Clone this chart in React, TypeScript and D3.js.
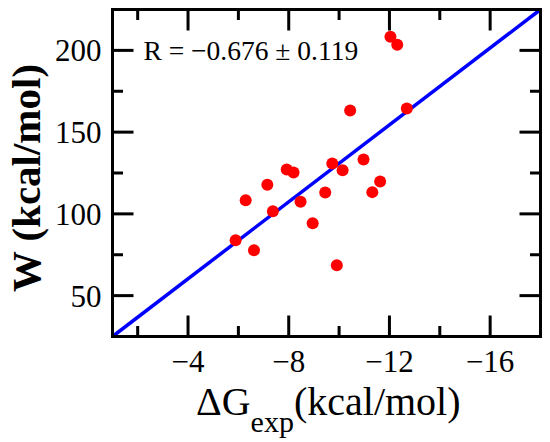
import * as d3 from "d3";

const WIDTH = 550;
const HEIGHT = 442;
const MARGIN = { top: 9.5, right: 9.5, bottom: 105.5, left: 112.5 };

// binding free energy (x) vs. W (y)
const dgExp = [
  -12.04, -12.31, -10.44, -12.69, -10.97, -9.73, -10.14, -7.92, -8.19, -7.15,
  -11.63, -11.32, -9.45, -6.29, -8.47, -7.37, -8.95, -5.89, -6.62, -9.91,
];
const wValues = [
  208.3, 203.4, 163.2, 164.4, 133.3, 130.8, 126.7, 127.1, 125.3, 117.8,
  119.8, 113.3, 113.1, 108.4, 107.4, 101.6, 94.3, 83.9, 77.8, 68.6,
];
const fitX = [-1, -18];
const fitY = [25, 225];

const xMajor = [-4, -8, -12, -16];
const xMinor = [-2, -6, -10, -14];
const yMajor = [50, 100, 150, 200];
const yMinor = [75, 125, 175];

const MAJOR = 21;
const MINOR = 10.5;
const SERIF = "Liberation Serif";

export default function App() {
  const boundsWidth = WIDTH - MARGIN.left - MARGIN.right;
  const boundsHeight = HEIGHT - MARGIN.top - MARGIN.bottom;

  const xScale = d3.scaleLinear().domain([-1, -18]).range([0, boundsWidth]);
  const yScale = d3.scaleLinear().domain([25, 225]).range([boundsHeight, 0]);
  const fmt = d3.format("d");

  const fitLine = d3
    .line<number>()
    .x((d) => xScale(d))
    .y((_, i) => yScale(fitY[i]))(fitX);

  const xTicks = [
    ...xMajor.map((v) => ({ v, len: MAJOR })),
    ...xMinor.map((v) => ({ v, len: MINOR })),
  ];
  const yTicks = [
    ...yMajor.map((v) => ({ v, len: MAJOR })),
    ...yMinor.map((v) => ({ v, len: MINOR })),
  ];

  return (
    <svg
      width={WIDTH}
      height={HEIGHT}
      style={{ position: "absolute", left: 0, top: 0, background: "#fff" }}
    >
      <g transform={`translate(${MARGIN.left}, ${MARGIN.top})`}>
        {/* fit line */}
        <path d={fitLine ?? ""} stroke="#0000ff" strokeWidth={3.5} fill="none" />

        {/* points */}
        {dgExp.map((x, i) => (
          <circle key={i} cx={xScale(x)} cy={yScale(wValues[i])} r={6} fill="#ff0000" />
        ))}

        {/* ticks on all four sides */}
        {xTicks.map((t, i) => (
          <g key={"x" + i} stroke="#000" strokeWidth={3}>
            <line x1={xScale(t.v)} x2={xScale(t.v)} y1={boundsHeight} y2={boundsHeight - t.len} />
            <line x1={xScale(t.v)} x2={xScale(t.v)} y1={0} y2={t.len} />
          </g>
        ))}
        {yTicks.map((t, i) => (
          <g key={"y" + i} stroke="#000" strokeWidth={3}>
            <line x1={0} x2={t.len} y1={yScale(t.v)} y2={yScale(t.v)} />
            <line x1={boundsWidth} x2={boundsWidth - t.len} y1={yScale(t.v)} y2={yScale(t.v)} />
          </g>
        ))}

        <rect
          x={0}
          y={0}
          width={boundsWidth}
          height={boundsHeight}
          fill="none"
          stroke="#000"
          strokeWidth={3}
        />

        {/* tick labels */}
        {xMajor.map((v) => (
          <text
            key={"xl" + v}
            x={xScale(v)}
            y={boundsHeight + 35}
            textAnchor="middle"
            fontSize={31}
            fontFamily={SERIF}
          >
            {fmt(v)}
          </text>
        ))}
        {yMajor.map((v) => (
          <text
            key={"yl" + v}
            x={-11}
            y={yScale(v) + 11}
            textAnchor="end"
            fontSize={31}
            fontFamily={SERIF}
          >
            {fmt(v)}
          </text>
        ))}

        <text x={31} y={50} fontSize={27.5} fontFamily={SERIF}>
          R = −0.676 ± 0.119
        </text>
      </g>

      {/* axis titles */}
      <text x={196} y={415} fontSize={40} fontFamily={SERIF}>
        ΔG
        <tspan fontSize={30} dy={17}>exp</tspan>
        <tspan dy={-17}>(kcal/mol)</tspan>
      </text>
      <text
        transform={`translate(40, ${MARGIN.top + boundsHeight / 2 + 5}) rotate(-90)`}
        textAnchor="middle"
        fontSize={41}
        fontWeight="bold"
        fontFamily={SERIF}
      >
        W (kcal/mol)
      </text>
    </svg>
  );
}
